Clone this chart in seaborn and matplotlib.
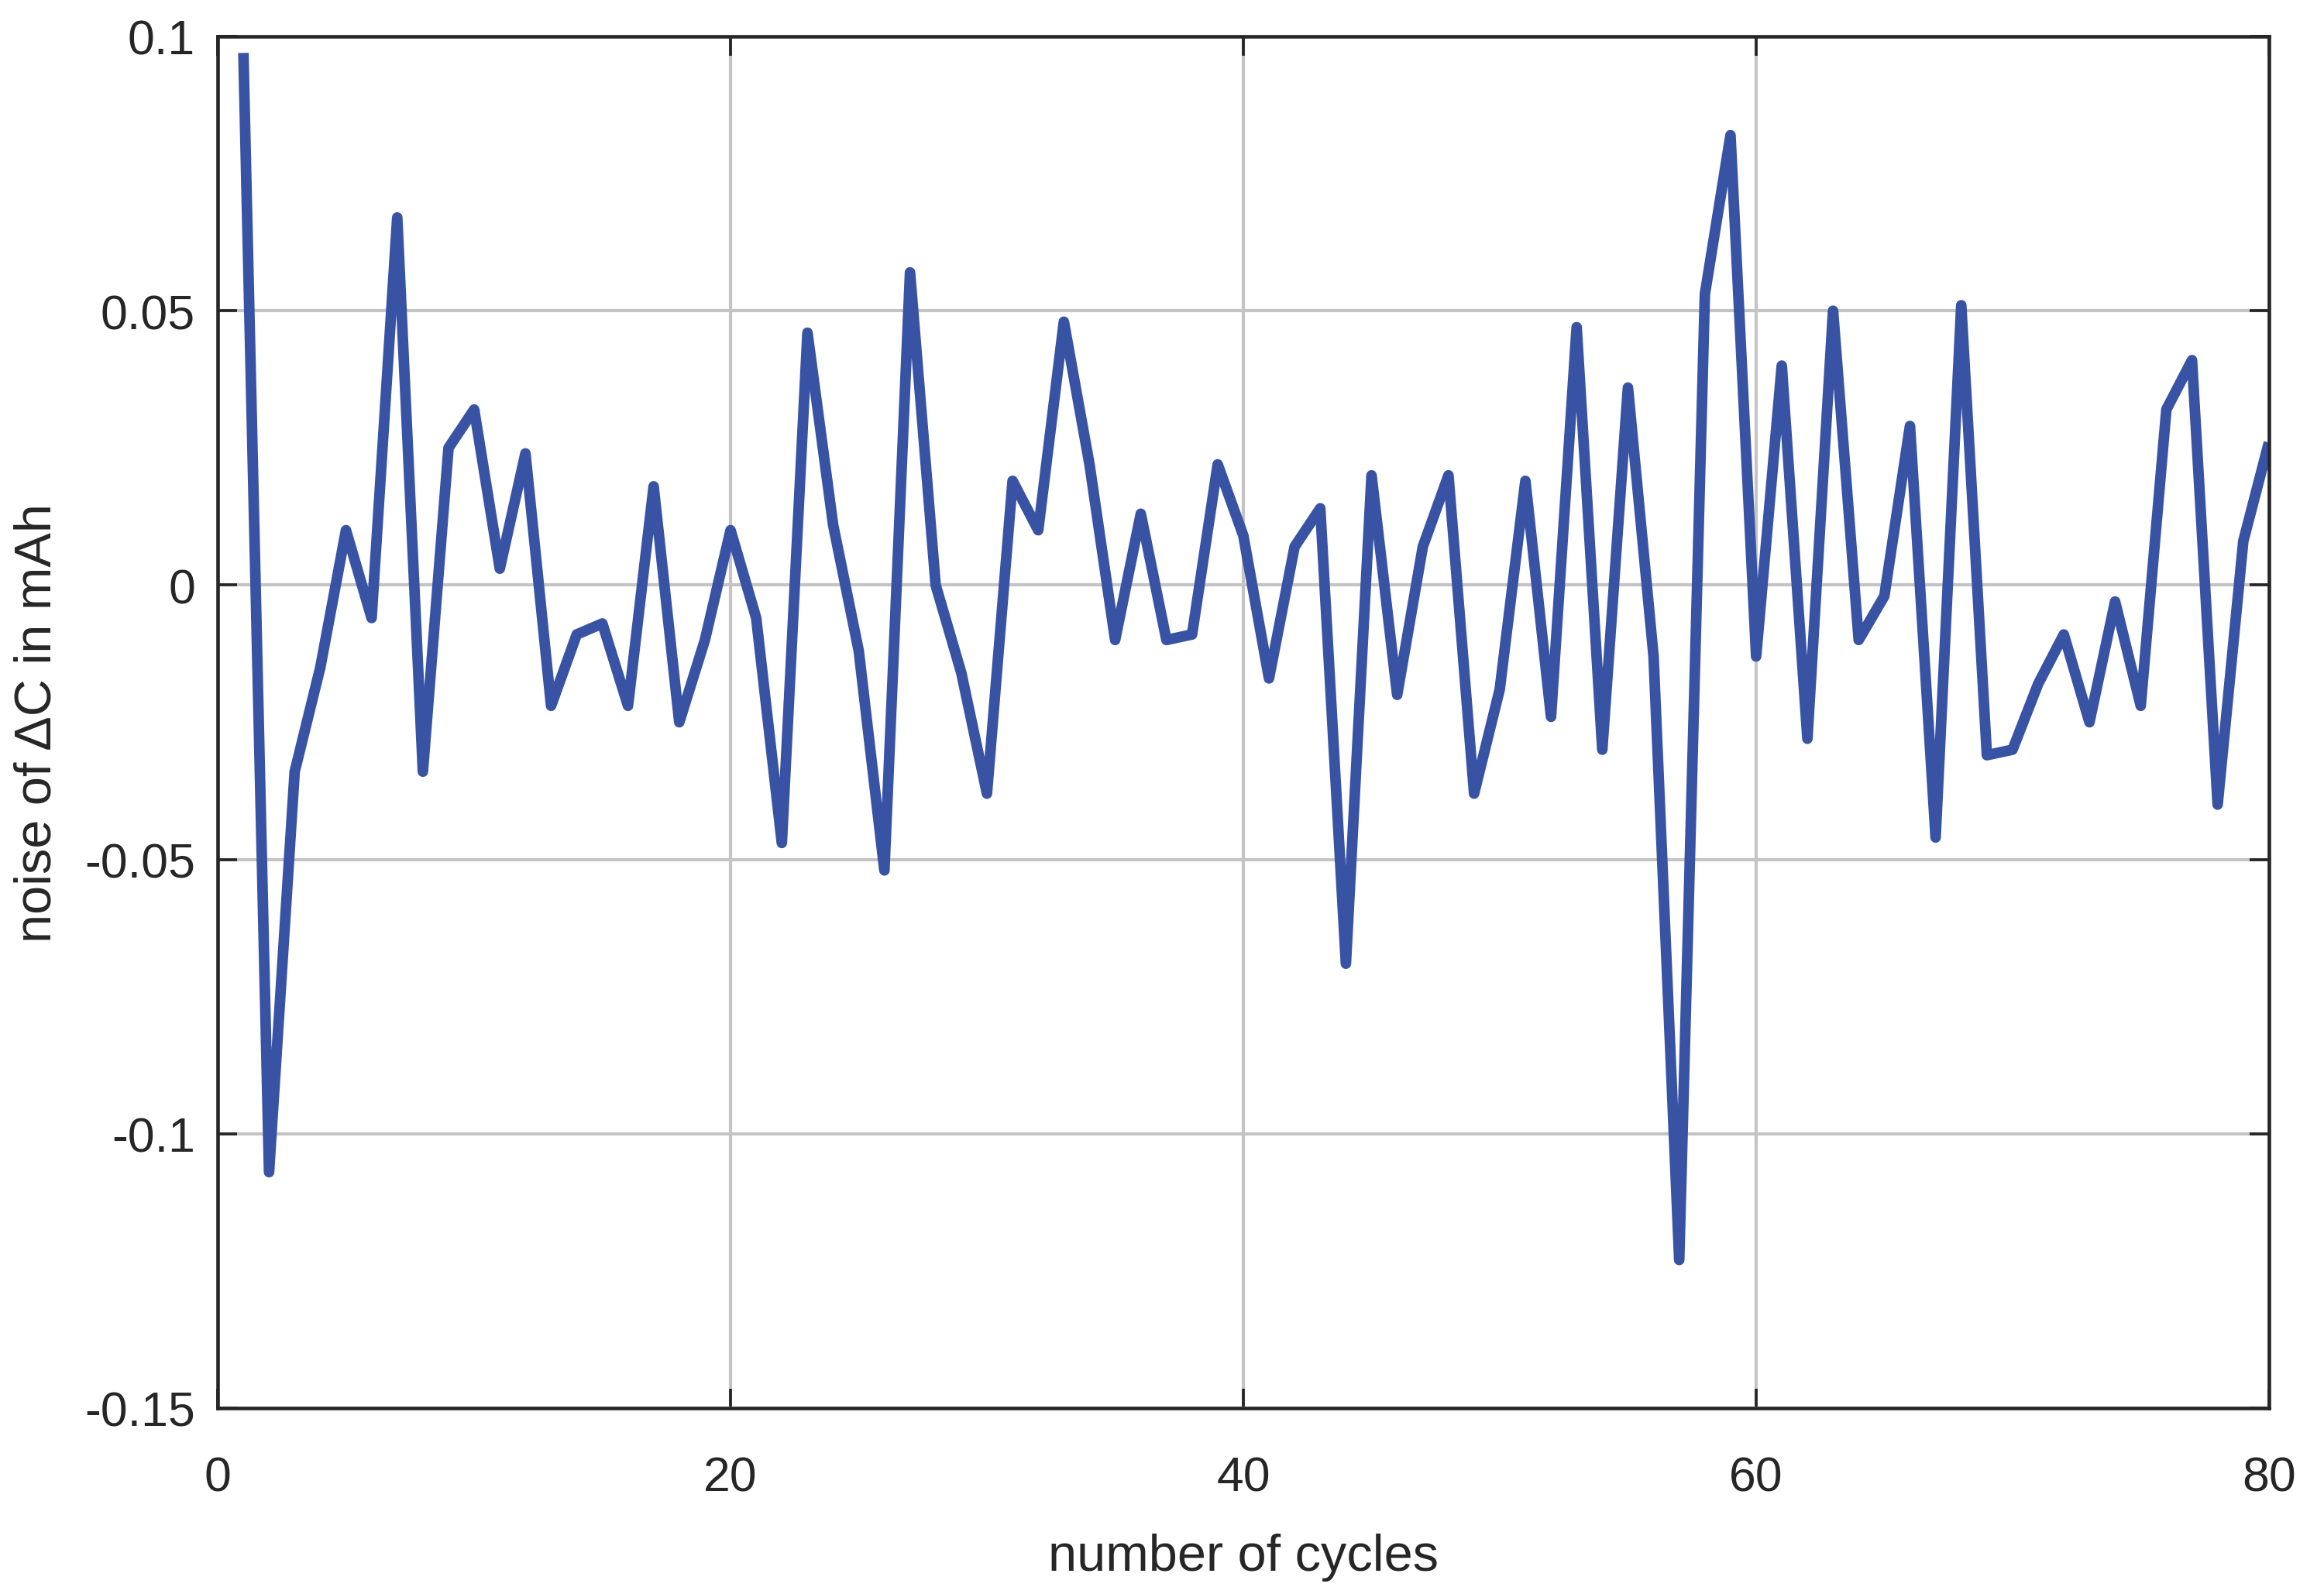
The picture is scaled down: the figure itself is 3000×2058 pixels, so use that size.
import numpy as np
import pandas as pd
import seaborn as sns
import matplotlib
matplotlib.use('Agg')
import matplotlib.pyplot as plt

# noise of delta C per cycle
cycles = list(range(1, 81))
noise = [0.097, -0.107, -0.034, -0.015, 0.010, -0.006, 0.067, -0.034, 0.025, 0.032,
         0.003, 0.024, -0.022, -0.009, -0.007, -0.022, 0.018, -0.025, -0.010, 0.010,
         -0.006, -0.047, 0.046, 0.011, -0.012, -0.052, 0.057, 0.000, -0.016, -0.038,
         0.019, 0.010, 0.048, 0.022, -0.010, 0.013, -0.010, -0.009, 0.022, 0.009,
         -0.017, 0.007, 0.014, -0.069, 0.020, -0.020, 0.007, 0.020, -0.038, -0.019,
         0.019, -0.024, 0.047, -0.030, 0.036, -0.013, -0.123, 0.053, 0.082, -0.013,
         0.040, -0.028, 0.050, -0.010, -0.002, 0.029, -0.046, 0.051, -0.031, -0.030,
         -0.018, -0.009, -0.025, -0.003, -0.022, 0.032, 0.041, -0.040, 0.008, 0.026]

x_ticks = [0, 20, 40, 60, 80]
y_ticks = [-0.15, -0.1, -0.05, 0, 0.05, 0.1]
y_tick_labels = ['-0.15', '-0.1', '-0.05', '0', '0.05', '0.1']

df = pd.DataFrame({'cycle': cycles, 'noise': noise})

sns.set_theme(style='white')
plt.rcParams['font.family'] = ['Liberation Sans', 'DejaVu Sans']
plt.rcParams['axes.unicode_minus'] = False

fig = plt.figure(figsize=(10, 6.863), dpi=300)
ax = fig.add_axes([0.0937, 0.1166, 0.8826, 0.8601])

sns.lineplot(data=df, x='cycle', y='noise', ax=ax, color='#3953a4',
             linewidth=3.3, solid_joinstyle='round', solid_capstyle='butt')

ax.set_xlim(0, 80)
ax.set_ylim(-0.15, 0.1)
ax.set_xticks(x_ticks)
ax.set_xticklabels([str(t) for t in x_ticks])
ax.set_yticks(y_ticks)
ax.set_yticklabels(y_tick_labels)

ax.grid(True, color='#c4c4c4', linewidth=1.0)
ax.set_axisbelow(True)

for s in ax.spines.values():
    s.set_visible(True)
    s.set_color('#262626')
    s.set_linewidth(1.1)

ax.tick_params(direction='in', length=6, width=0.9, color='#262626',
               top=True, right=True, bottom=True, left=True,
               labelsize=15, labelcolor='#262626')
ax.tick_params(axis='x', pad=14.5)
ax.tick_params(axis='y', pad=7)

ax.set_xlabel('number of cycles', fontsize=16, color='#262626', labelpad=10)
ax.set_ylabel('noise of \u0394C in mAh', fontsize=16, color='#262626', labelpad=7)

fig.savefig('out.png', dpi=300)
